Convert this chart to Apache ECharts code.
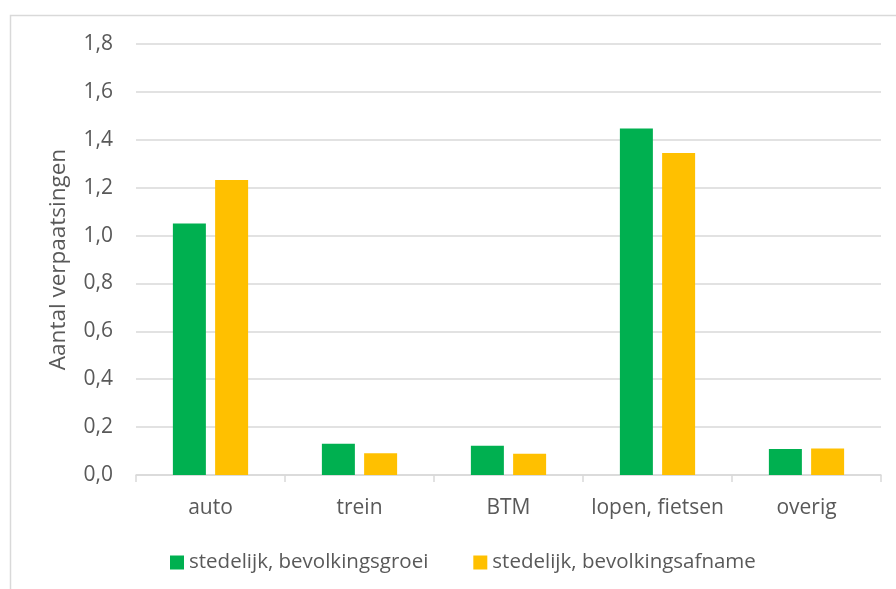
<!DOCTYPE html>
<html>
<head>
<meta charset="utf-8">
<script src="https://cdn.jsdelivr.net/npm/echarts@6/dist/echarts.min.js"></script>
<style>
  html, body { margin: 0; padding: 0; background: #fff; }
  #chart { width: 896px; height: 589px; }
</style>
</head>
<body>
<div id="chart"></div>
<script>
const categories = ['auto', 'trein', 'BTM', 'lopen, fietsen', 'overig'];
const groei = [1.05, 0.13, 0.122, 1.447, 0.109];
const afname = [1.232, 0.091, 0.089, 1.345, 0.111];
const seriesNames = ['stedelijk, bevolkingsgroei', 'stedelijk, bevolkingsafname'];

const font = 'Open Sans';
const textColor = '#595959';
const lineColor = '#d9d9d9';

const myChart = echarts.init(document.getElementById('chart'));
myChart.setOption({
    animation: false,
    textStyle: {fontFamily: font},
    graphic: [{
        type: 'rect',
        shape: {x: 10.5, y: 15.5, width: 1000, height: 1000},
        style: {fill: 'none', stroke: lineColor, lineWidth: 1.5}
    }],
    legend: {
        left: 165,
        top: 547,
        itemWidth: 14,
        itemHeight: 14,
        itemGap: 45,
        icon: 'rect',
        textStyle: {color: textColor, fontSize: 20.5, fontFamily: font}
    },
    grid: {
        left: 136,
        right: 15,
        top: 44,
        bottom: 114,
        containLabel: false
    },
    xAxis: {
        type: 'category',
        data: categories,
        axisLine: {lineStyle: {color: lineColor, width: 1.5}},
        axisTick: {show: true, interval: 0, length: 7, lineStyle: {color: lineColor, width: 1.5}},
        axisLabel: {color: textColor, fontSize: 21, margin: 23, interval: 0, fontFamily: font}
    },
    yAxis: {
        type: 'value',
        min: 0,
        max: 1.8,
        interval: 0.2,
        name: 'Aantal verpaatsingen',
        nameLocation: 'middle',
        nameGap: 66,
        nameTextStyle: {color: textColor, fontSize: 22.5, fontFamily: font},
        axisLine: {show: false},
        axisTick: {show: false},
        splitLine: {lineStyle: {color: lineColor, width: 1.5}},
        axisLabel: {
            color: textColor,
            fontSize: 21,
            margin: 23,
            fontFamily: font,
            formatter: val => val.toFixed(1).replace('.', ',')
        }
    },
    series: [
        {name: seriesNames[0], data: groei, color: '#00b050'},
        {name: seriesNames[1], data: afname, color: '#ffc000'}
    ].map(obj => ({
        ...obj,
        type: 'bar',
        barWidth: 33,
        barGap: '28%'
    }))
});
</script>
</body>
</html>
